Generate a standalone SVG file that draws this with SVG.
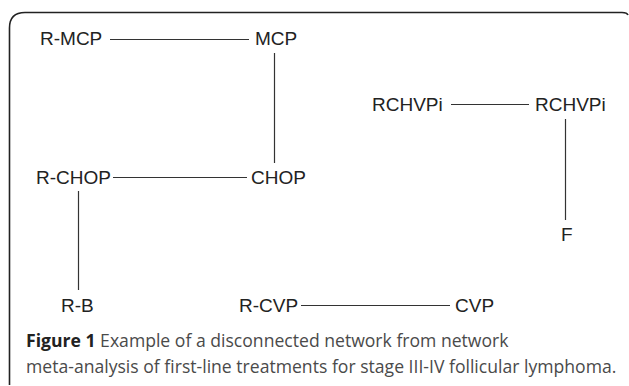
<svg xmlns="http://www.w3.org/2000/svg" width="629" height="386" viewBox="0 0 629 386">
  <style>
    .node { font-family: "Liberation Sans", Arial, sans-serif; font-size: 19px; fill: #222; }
    .edge { stroke: #333; stroke-width: 1.2; fill: none; }
    .frame { stroke: #222; stroke-width: 1.6; fill: none; }
    .cap { font-family: "Open Sans", "Noto Sans", sans-serif; font-size: 17.6px; fill: #4a4a4a; }
    .cap .fig { font-weight: bold; fill: #222; }
  </style>
  <rect width="629" height="386" fill="#fff"/>
  <!-- panel outline -->
  <path class="frame" d="M 9.5 385 Q 9.5 383 9.5 381 L 9.5 28 Q 9.5 12.5 25 12.5 L 622 12.5 Q 627 12.5 628 15"/>

  <g id="connectors">
    <line class="edge" x1="110" y1="39.5" x2="249" y2="39.5"/>
    <line class="edge" x1="274.5" y1="53" x2="274.5" y2="163"/>
    <line class="edge" x1="113" y1="177.5" x2="247" y2="177.5"/>
    <line class="edge" x1="78.5" y1="191" x2="78.5" y2="290"/>
    <line class="edge" x1="451" y1="104.5" x2="529" y2="104.5"/>
    <line class="edge" x1="565.5" y1="119" x2="565.5" y2="220"/>
    <line class="edge" x1="301" y1="305.5" x2="450" y2="305.5"/>
  </g>

  <g id="n-rmcp"><text class="node" x="40" y="45">R-MCP</text></g>
  <g id="n-mcp"><text class="node" x="255" y="45">MCP</text></g>
  <g id="n-rchop"><text class="node" x="36" y="184">R-CHOP</text></g>
  <g id="n-chop"><text class="node" x="251" y="184">CHOP</text></g>
  <g id="n-rb"><text class="node" x="61" y="312">R-B</text></g>
  <g id="n-rcvp"><text class="node" x="239" y="312">R-CVP</text></g>
  <g id="n-cvp"><text class="node" x="455" y="312">CVP</text></g>
  <g id="n-rchvpi-a"><text class="node" x="372" y="111">RCHVPi</text></g>
  <g id="n-rchvpi-b"><text class="node" x="535" y="111">RCHVPi</text></g>
  <g id="n-f"><text class="node" x="561" y="241">F</text></g>

  <g id="caption">
    <text class="cap" x="26" y="347"><tspan class="fig">Figure 1</tspan> Example of a disconnected network from network</text>
    <text class="cap" x="26" y="373">meta-analysis of first-line treatments for stage III-IV follicular lymphoma.</text>
  </g>
</svg>
